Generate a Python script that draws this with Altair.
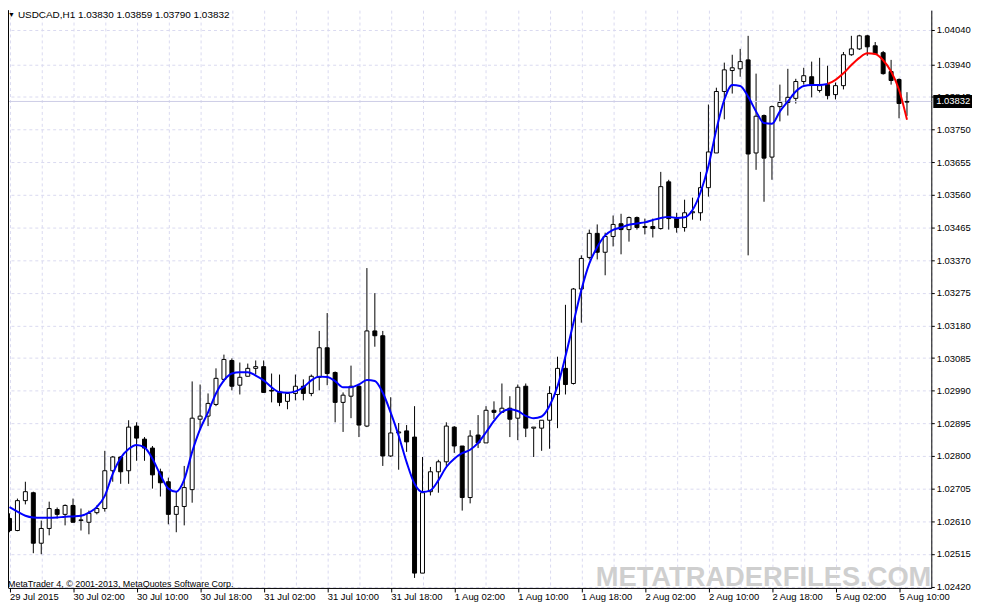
import json
import altair as alt
import pandas as pd

symbol = "USDCAD,H1"

opens = [
    1.02618, 1.02583, 1.02670, 1.02693, 1.02546, 1.02589, 1.02644, 1.02630, 1.02656, 1.02612,
    1.02607, 1.02635, 1.02647, 1.02757, 1.02797, 1.02757, 1.02887, 1.02849, 1.02823, 1.02754,
    1.02725, 1.02630, 1.02653, 1.02702, 1.02907, 1.02916, 1.02950, 1.03023, 1.03078, 1.03006,
    1.03032, 1.03055, 1.03060, 1.02991, 1.02985, 1.02959, 1.02982, 1.03003, 1.02982, 1.03029,
    1.03115, 1.03043, 1.02956, 1.02974, 1.03003, 1.02887, 1.03164, 1.03150, 1.02800, 1.02867,
    1.02873, 1.02855, 1.02459, 1.02696, 1.02754, 1.02783, 1.02884, 1.02829, 1.02679, 1.02861,
    1.02838, 1.02933, 1.02927, 1.02939, 1.02910, 1.03003, 1.02881, 1.02881, 1.02904, 1.02979,
    1.03055, 1.03011, 1.03286, 1.03378, 1.03448, 1.03393, 1.03439, 1.03476, 1.03459, 1.03494,
    1.03465, 1.03468, 1.03462, 1.03598, 1.03491, 1.03465, 1.03508, 1.03508, 1.03581, 1.03682,
    1.03861, 1.03922, 1.03927, 1.03953, 1.03682, 1.03791, 1.03670, 1.03817, 1.03829, 1.03841,
    1.03890, 1.03904, 1.03864, 1.03881, 1.03852, 1.03878, 1.03968, 1.03985, 1.04023, 1.03994,
    1.03974, 1.03919, 1.03896, 1.03830,
]

highs = [
    1.02633, 1.02676, 1.02725, 1.02696, 1.02612, 1.02667, 1.02650, 1.02659, 1.02676, 1.02647,
    1.02641, 1.02656, 1.02815, 1.02800, 1.02800, 1.02904, 1.02898, 1.02855, 1.02829, 1.02763,
    1.02737, 1.02696, 1.02771, 1.03017, 1.03008, 1.02982, 1.03055, 1.03095, 1.03084, 1.03072,
    1.03069, 1.03078, 1.03078, 1.03040, 1.03037, 1.02985, 1.03037, 1.03023, 1.03037, 1.03164,
    1.03216, 1.03046, 1.02985, 1.03063, 1.03006, 1.03347, 1.03274, 1.03164, 1.02971, 1.02896,
    1.02890, 1.02945, 1.02797, 1.02768, 1.02789, 1.02898, 1.02887, 1.02829, 1.02875, 1.02919,
    1.02945, 1.02959, 1.03011, 1.02974, 1.03008, 1.03011, 1.02884, 1.02904, 1.03003, 1.03089,
    1.03240, 1.03289, 1.03384, 1.03459, 1.03474, 1.03450, 1.03500, 1.03505, 1.03497, 1.03497,
    1.03491, 1.03491, 1.03627, 1.03604, 1.03508, 1.03546, 1.03552, 1.03627, 1.03823, 1.03872,
    1.03945, 1.03968, 1.03985, 1.04023, 1.03913, 1.03794, 1.03820, 1.03881, 1.03927, 1.03898,
    1.03930, 1.03948, 1.03959, 1.03936, 1.03887, 1.03976, 1.04023, 1.04026, 1.04026, 1.04005,
    1.03979, 1.03953, 1.03899, 1.03859,
]

lows = [
    1.02578, 1.02581, 1.02659, 1.02517, 1.02514, 1.02569, 1.02618, 1.02598, 1.02607, 1.02583,
    1.02572, 1.02630, 1.02638, 1.02725, 1.02719, 1.02719, 1.02786, 1.02786, 1.02705, 1.02682,
    1.02601, 1.02578, 1.02598, 1.02664, 1.02878, 1.02887, 1.02945, 1.03017, 1.02991, 1.02979,
    1.03032, 1.03037, 1.02985, 1.02956, 1.02945, 1.02936, 1.02962, 1.02962, 1.02974, 1.02991,
    1.03006, 1.02898, 1.02870, 1.02910, 1.02855, 1.02884, 1.03118, 1.02771, 1.02797, 1.02760,
    1.02812, 1.02445, 1.02459, 1.02685, 1.02693, 1.02771, 1.02809, 1.02641, 1.02662, 1.02823,
    1.02838, 1.02907, 1.02927, 1.02855, 1.02846, 1.02855, 1.02797, 1.02815, 1.02821, 1.02881,
    1.02979, 1.03008, 1.03188, 1.03372, 1.03372, 1.03326, 1.03410, 1.03387, 1.03424, 1.03459,
    1.03445, 1.03436, 1.03459, 1.03459, 1.03450, 1.03453, 1.03488, 1.03485, 1.03555, 1.03682,
    1.03780, 1.03855, 1.03904, 1.03384, 1.03633, 1.03540, 1.03604, 1.03774, 1.03791, 1.03826,
    1.03881, 1.03844, 1.03858, 1.03838, 1.03838, 1.03867, 1.03965, 1.03982, 1.03965, 1.03968,
    1.03910, 1.03881, 1.03783, 1.03790,
]

closes = [
    1.02583, 1.02670, 1.02696, 1.02546, 1.02589, 1.02647, 1.02630, 1.02656, 1.02607, 1.02614,
    1.02633, 1.02647, 1.02757, 1.02797, 1.02754, 1.02884, 1.02852, 1.02823, 1.02745, 1.02722,
    1.02630, 1.02653, 1.02708, 1.02910, 1.02916, 1.02953, 1.03026, 1.03081, 1.03003, 1.03029,
    1.03055, 1.03060, 1.02985, 1.02989, 1.02956, 1.02982, 1.03003, 1.02982, 1.03032, 1.03115,
    1.03040, 1.02956, 1.02977, 1.03003, 1.02890, 1.03164, 1.03150, 1.02800, 1.02867, 1.02870,
    1.02841, 1.02459, 1.02693, 1.02754, 1.02783, 1.02887, 1.02829, 1.02679, 1.02858, 1.02838,
    1.02933, 1.02927, 1.02939, 1.02907, 1.03000, 1.02881, 1.02884, 1.02904, 1.02982, 1.03055,
    1.03008, 1.03286, 1.03375, 1.03448, 1.03393, 1.03439, 1.03474, 1.03459, 1.03494, 1.03465,
    1.03468, 1.03462, 1.03584, 1.03491, 1.03465, 1.03508, 1.03511, 1.03581, 1.03685, 1.03861,
    1.03924, 1.03930, 1.03948, 1.03679, 1.03789, 1.03667, 1.03817, 1.03829, 1.03844, 1.03890,
    1.03907, 1.03881, 1.03878, 1.03849, 1.03878, 1.03968, 1.03985, 1.04023, 1.03991, 1.03971,
    1.03913, 1.03893, 1.03826, 1.03832,
]

ma = [
    1.02651, 1.02638, 1.02626, 1.02621, 1.02620, 1.02620, 1.02621, 1.02623, 1.02624, 1.02626,
    1.02635, 1.02652, 1.02684, 1.02748, 1.02794, 1.02820, 1.02832, 1.02825, 1.02792, 1.02745,
    1.02705, 1.02696, 1.02731, 1.02812, 1.02878, 1.02927, 1.02982, 1.03020, 1.03040, 1.03044,
    1.03044, 1.03034, 1.03020, 1.03000, 1.02986, 1.02984, 1.02988, 1.03000, 1.03020, 1.03031,
    1.03030, 1.03018, 1.03000, 1.03000, 1.03008, 1.03021, 1.03018, 1.02984, 1.02926, 1.02859,
    1.02782, 1.02719, 1.02695, 1.02700, 1.02729, 1.02768, 1.02792, 1.02808, 1.02818, 1.02838,
    1.02869, 1.02902, 1.02928, 1.02936, 1.02931, 1.02917, 1.02910, 1.02915, 1.02946, 1.03003,
    1.03090, 1.03187, 1.03283, 1.03360, 1.03408, 1.03442, 1.03458, 1.03465, 1.03473, 1.03477,
    1.03480, 1.03487, 1.03493, 1.03496, 1.03493, 1.03495, 1.03516, 1.03567, 1.03644, 1.03750,
    1.03837, 1.03880, 1.03877, 1.03846, 1.03803, 1.03769, 1.03767, 1.03803, 1.03832, 1.03861,
    1.03877, 1.03880, 1.03880, 1.03883, 1.03895, 1.03914, 1.03938, 1.03959, 1.03972, 1.03970,
    1.03952, 1.03919, 1.03866, 1.03779,
]

x_labels = [
    "29 Jul 2015", "30 Jul 02:00", "30 Jul 10:00", "30 Jul 18:00", "31 Jul 02:00",
    "31 Jul 10:00", "31 Jul 18:00", "1 Aug 02:00", "1 Aug 10:00", "1 Aug 18:00",
    "2 Aug 02:00", "2 Aug 10:00", "2 Aug 18:00", "5 Aug 02:00", "5 Aug 10:00",
]

y_ticks = [
    1.02420, 1.02515, 1.02610, 1.02705, 1.02800, 1.02895, 1.02990, 1.03085, 1.03180,
    1.03275, 1.03370, 1.03465, 1.03560, 1.03655, 1.03750, 1.03845, 1.03940, 1.04040,
]

red_from_bar = 103
watermark = "METATRADERFILES.COM"
copyright_text = "MetaTrader 4, \u00a9 2001-2013, MetaQuotes Software Corp."

n = len(closes)
assert len(opens) == n and len(highs) == n and len(lows) == n and len(ma) == n

df = pd.DataFrame({
    "bar": list(range(n)),
    "open": opens, "high": highs, "low": lows, "close": closes, "ma": ma,
})

# ---- layout / styles ----
W, H = 930, 582
BAR_PX = 8
x_start = -0.1875
Y_LO, Y_HI = 1.024158, 1.040978
XS = alt.Scale(domain=[x_start, x_start + W / BAR_PX], nice=False, zero=False)
YS = alt.Scale(domain=[Y_LO, Y_HI], nice=False, zero=False)
FONT = "Liberation Sans"
GRID = "#dadaf0"

label_expr = (
    "datum.value % 8 === 0 ? " + json.dumps(x_labels) + "[datum.value / 8] : ''"
)

x_axis = alt.Axis(
    values=list(range(0, 117, 4)), title=None,
    grid=True, gridColor=GRID, gridDash=[3, 3], gridWidth=1,
    domain=True, domainColor="black", domainWidth=1,
    ticks=True, tickColor="black", tickSize=4, tickWidth=1,
    tickOpacity={"condition": {"test": "datum.value % 8 === 0", "value": 1}, "value": 0},
    labelExpr=label_expr, labelAlign="left", labelBaseline="top", labelPadding=0,
    labelFont=FONT, labelFontSize=9.5, labelColor="black",
    labelOverlap=False, labelFlush=False, labelBound=False,
)

y_axis = alt.Axis(
    orient="right", values=y_ticks, format=".5f", title=None,
    grid=True, gridColor=GRID, gridDash=[3, 3], gridWidth=1,
    domain=True, domainColor="black", domainWidth=1,
    ticks=True, tickColor="black", tickSize=3,
    labelPadding=2, labelFont=FONT, labelFontSize=9.5, labelColor="black",
    labelOverlap=False, labelFlush=False,
)


def X(field):
    return alt.X(field, scale=XS, axis=x_axis)


def Y(field):
    return alt.Y(field, scale=YS, axis=y_axis)


base = alt.Chart(df)

price_df = pd.DataFrame({
    "p": [closes[-1]],
    "label": [f"{closes[-1]:.5f}"],
})

wicks = base.mark_rule(color="black", strokeWidth=1).encode(
    x=X("bar:Q"), y=Y("low:Q"), y2="high:Q",
)

price_line = alt.Chart(price_df).mark_rule(color="#cdcde6", strokeWidth=1).encode(
    y=Y("p:Q")
)

bodies = base.transform_calculate(
    b0="datum.bar - 0.25", b1="datum.bar + 0.25"
).mark_rect(stroke="black", strokeWidth=1).encode(
    x=X("b0:Q"), x2="b1:Q",
    y=Y("open:Q"), y2="close:Q",
    fill=alt.condition("datum.close >= datum.open", alt.value("white"), alt.value("black")),
)

ma_blue = base.transform_filter(f"datum.bar <= {red_from_bar}").mark_line(
    color="#0000ff", strokeWidth=2, interpolate="monotone"
).encode(x=X("bar:Q"), y=Y("ma:Q"))

ma_red = base.transform_filter(f"datum.bar >= {red_from_bar}").mark_line(
    color="#ff0000", strokeWidth=2, interpolate="monotone"
).encode(x=X("bar:Q"), y=Y("ma:Q"))

wm = alt.Chart(pd.DataFrame({"t": [watermark]})).mark_text(
    align="left", baseline="alphabetic", font=FONT, fontWeight="bold",
    fontSize=27.5, color="#cfcfcf",
).encode(text="t:N", x=alt.value(592), y=alt.value(580))

copyright_layer = alt.Chart(pd.DataFrame({"t": [copyright_text]})).mark_text(
    align="left", baseline="middle", font=FONT, fontSize=9, color="black",
).encode(text="t:N", x=alt.value(0), y=alt.value(578))

title_text = (
    f"{symbol}  {opens[-1]:.5f} {highs[-1]:.5f} {lows[-1]:.5f} {closes[-1]:.5f}"
)
title_layer = alt.Chart(pd.DataFrame({"t": [title_text]})).mark_text(
    align="left", baseline="alphabetic", font=FONT, fontSize=10, color="black",
).encode(text="t:N", x=alt.value(10), y=alt.value(8))

tri_layer = alt.Chart(pd.DataFrame({"t": ["\u25bc"]})).mark_text(
    align="left", baseline="alphabetic", fontSize=7, color="black",
).encode(text="t:N", x=alt.value(0), y=alt.value(7))

left_border = alt.Chart(price_df).mark_rule(color="black", strokeWidth=1).encode(
    x=alt.value(0.5), y=alt.value(0), y2=alt.value(H)
)

py = (Y_HI - closes[-1]) / (Y_HI - Y_LO) * H
price_box = alt.Chart(price_df).mark_rect(color="black").encode(
    x=alt.value(W + 2), x2=alt.value(W + 41),
    y=alt.value(py - 6.5), y2=alt.value(py + 6.5),
)
price_text = alt.Chart(price_df).mark_text(
    align="left", baseline="middle", font=FONT, fontSize=9.5, color="white",
).encode(text="label:N", x=alt.value(W + 5), y=Y("p:Q"))

chart = alt.layer(
    wicks, price_line, bodies, ma_blue, ma_red, wm, copyright_layer,
    title_layer, tri_layer, left_border, price_box, price_text,
).properties(
    width=W, height=H,
    autosize=alt.AutoSizeParams(type="none"),
    padding={"left": 0, "top": 0, "right": 42, "bottom": 14},
    background="white",
).configure_view(stroke=None)

chart.save("out.html", embed_options={"renderer": "svg", "actions": False})
